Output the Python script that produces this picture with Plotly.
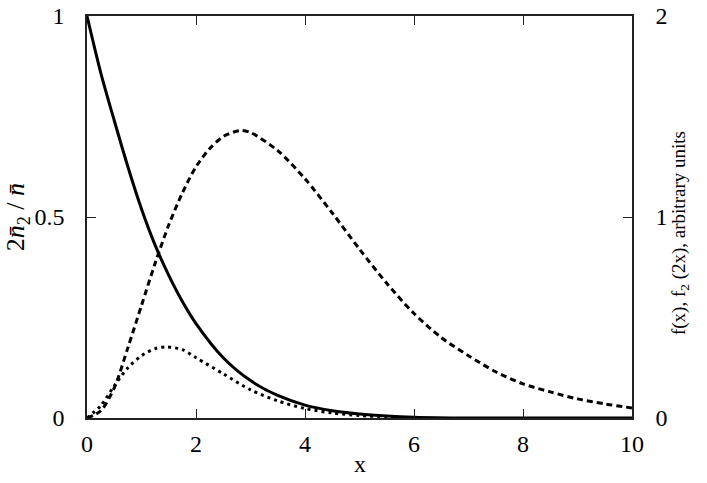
import plotly.graph_objects as go

# solid curve: 2*n2/n (left axis)
x_solid = [0, 0.25, 0.5, 0.75, 1.0, 1.25, 1.5, 1.75, 2.0, 2.5, 3.0, 3.5, 4.0, 4.5, 5.0, 5.5, 6.0, 7.0, 8.0, 10.0]
y_solid = [1.0, 0.86, 0.74, 0.625, 0.52, 0.43, 0.355, 0.29, 0.235, 0.15, 0.093, 0.056, 0.032, 0.018, 0.01,
           0.005, 0.002, 0.0, 0.0, 0.0]

# dashed curve: f(x) (right axis)
x_dash = [0, 0.25, 0.5, 0.75, 1.0, 1.25, 1.5, 1.75, 2.0, 2.25, 2.5, 2.8, 3.0, 3.5, 4.0, 4.5,
          5.0, 5.5, 6.0, 6.5, 7.0, 7.5, 8.0, 8.5, 9.0, 9.5, 10.0]
y_dash = [0, 0.035, 0.15, 0.35, 0.56, 0.77, 0.96, 1.12, 1.25, 1.34, 1.40, 1.43, 1.42, 1.33, 1.19, 1.02,
          0.84, 0.67, 0.52, 0.40, 0.31, 0.23, 0.17, 0.13, 0.095, 0.07, 0.05]

# dotted curve: f2(2x) (right axis)
x_dot = [0, 0.25, 0.5, 0.75, 1.0, 1.25, 1.45, 1.75, 2.0, 2.5, 3.0, 3.5, 4.0, 4.5, 5.0, 5.5, 6.0]
y_dot = [0, 0.06, 0.16, 0.25, 0.31, 0.345, 0.354, 0.34, 0.30, 0.22, 0.14, 0.085, 0.047, 0.025, 0.012,
         0.005, 0.0]

x_ticks = [0, 2, 4, 6, 8, 10]
left_ticks = [0, 0.5, 1]
right_ticks = [0, 1, 2]

FONT = "Liberation Serif, Times New Roman, serif"

fig = go.Figure()
fig.add_trace(go.Scatter(x=x_solid, y=y_solid, mode="lines",
                         line=dict(color="black", width=3, shape="spline", smoothing=0.8)))
fig.add_trace(go.Scatter(x=x_dash, y=y_dash, mode="lines", yaxis="y2",
                         line=dict(color="black", width=3, dash="6px,4px", shape="spline", smoothing=0.8)))
fig.add_trace(go.Scatter(x=x_dot, y=y_dot, mode="lines", yaxis="y2",
                         line=dict(color="black", width=3, dash="3px,4px", shape="spline", smoothing=0.8)))

axis_common = dict(showgrid=False, zeroline=False, showline=True, linecolor="#222", linewidth=1.5,
                   ticks="inside", ticklen=9, tickcolor="#222", tickwidth=1, automargin=False,
                   tickfont=dict(family=FONT, size=24, color="black"))

fig.update_layout(
    width=707, height=483,
    margin=dict(l=87, r=75, t=16, b=65),
    plot_bgcolor="white", paper_bgcolor="white",
    showlegend=False,
    xaxis=dict(range=[0, 10], tickvals=x_ticks, mirror="ticks", ticklabelstandoff=3, **axis_common),
    yaxis=dict(range=[0, 1], tickvals=left_ticks, ticktext=["0", "0.5", "1"], ticklabelstandoff=16, **axis_common),
    yaxis2=dict(range=[0, 2], tickvals=right_ticks, overlaying="y", side="right", ticklabelstandoff=17,
                **axis_common),
    annotations=[
        dict(text="x", x=0.5, y=-0.115, xref="paper", yref="paper", showarrow=False,
             font=dict(family=FONT, size=24, color="black"), xanchor="center", yanchor="middle"),
        dict(text="2<i>n̄</i><sub>2</sub> / <i>n̄</i>", x=-0.128, y=0.5, xref="paper", yref="paper",
             showarrow=False, textangle=-90, xanchor="center", yanchor="middle",
             font=dict(family=FONT, size=26, color="black")),
        dict(text="f(x), f<sub>2</sub> (2x), arbitrary units", x=1.088, y=0.46, xref="paper", yref="paper",
             showarrow=False, textangle=-90, xanchor="center", yanchor="middle",
             font=dict(family=FONT, size=19, color="black")),
    ],
)

fig.write_html("out.html", config={"displayModeBar": False},
               post_script="document.body.style.margin='0';document.body.style.padding='0';")
